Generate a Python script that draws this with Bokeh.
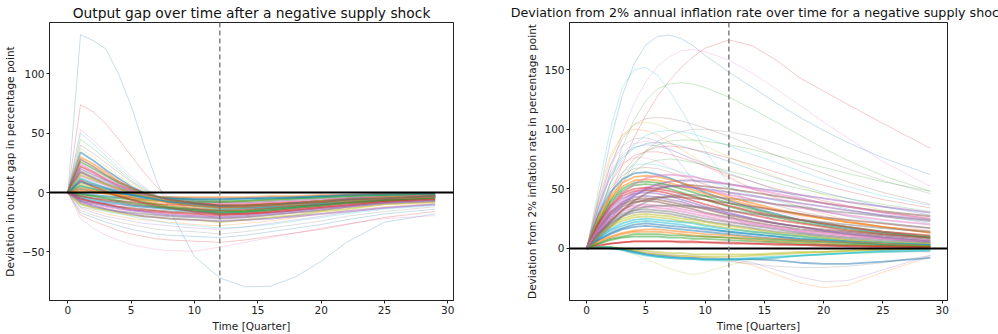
from bokeh.plotting import figure
from bokeh.models import Range1d, Span, ColumnDataSource, FixedTicker
from bokeh.layouts import row
from bokeh.embed import file_html
from bokeh.resources import INLINE

# ---------------- data: output gap (left) ----------------
gap_quarters = [0, 1, 2, 3, 4, 5, 6, 7, 8, 10, 12, 14, 16, 18, 20, 22, 25, 29]
gap_01 = [0, 133, 128, 121, 100, 73, 40, 10, -14, -54, -72, -79.5, -79, -71, -58, -42, -25, -18]
gap_02 = [0, 74, 68, 58, 45, 31, 17, 5, -5, -17, -22, -21, -19, -17, -15, -13, -10, -8]
gap_03 = [0, 53, 44, 34, 24, 14, 5, -2, -7, -13, -17, -17, -16, -14, -12, -10, -8, -6]
gap_04 = [0, 50, 41, 31, 21, 12, 4, -3, -8, -14, -19, -19, -17, -15, -13, -11, -8, -6]
gap_05 = [0, 45, 37, 28, 19, 10, 3, -3, -7, -12, -15, -15, -14, -12, -10, -9, -7, -5]
gap_06 = [0, 40, 33, 25, 17, 9, 2, -3, -6, -10, -13, -13, -12, -11, -9, -8, -6, -4]
gap_07 = [0, 37, 30, 22, 14, 7, 1, -4, -7, -11, -14, -14, -13, -11, -10, -8, -6, -4]
gap_08 = [0, 34, 27, 19, 12, 5, 0, -4, -7, -10, -12, -12, -11, -10, -8, -7, -5, -3]
gap_09 = [0, 30, 24, 17, 10, 4, -1, -4, -7, -10, -12, -12, -11, -9, -8, -6, -5, -3]
gap_10 = [0, 26, 20, 14, 8, 3, -1, -4, -6, -9, -11, -11, -10, -9, -7, -6, -4, -3]
gap_11 = [0, 22, 17, 11, 6, 2, -2, -4, -6, -9, -10, -10, -9, -8, -7, -5, -4, -2]
gap_12 = [0, 20, 15, 10, 5, 1, -2, -5, -7, -10, -12, -12, -11, -10, -8, -7, -5, -3]
gap_13 = [0, 17, 12, 7, 3, 0, -3, -5, -7, -9, -11, -11, -10, -9, -7, -6, -4, -3]
gap_14 = [0, 14, 10, 6, 2, -1, -3, -5, -6, -8, -9, -9, -8, -7, -6, -5, -3, -2]
gap_15 = [0, 11, 7, 4, 1, -1, -3, -4, -5, -7, -8, -8, -7, -6, -5, -4, -3, -2]
gap_16 = [0, 8, 5, 2, 0, -2, -3, -4, -5, -6, -7, -7, -6, -5, -4, -3, -2, -1]
gap_17 = [0, 5, 3, 1, -1, -2, -3, -4, -5, -6, -6, -6, -5, -5, -4, -3, -2, -1]
gap_18 = [0, 3, 1, 0, -1, -2, -3, -4, -4, -5, -5, -5, -4, -4, -3, -2, -2, -1]
gap_19 = [0, 1, 0, -1, -2, -3, -3, -4, -4, -4, -4, -4, -3, -3, -2, -2, -1, -1]
gap_20 = [0, -2, -3, -4, -5, -6, -6, -7, -7, -8, -8, -7, -6, -5, -4, -3, -2, -1]
gap_21 = [0, -3, -5, -6, -7, -8, -9, -10, -10, -11, -12, -11, -10, -9, -7, -6, -4, -3]
gap_22 = [0, -5, -7, -9, -10, -11, -12, -13, -14, -15, -16, -15, -13, -12, -10, -8, -6, -4]
gap_23 = [0, -6, -8, -10, -12, -13, -14, -15, -16, -17, -18, -17, -15, -13, -11, -9, -7, -5]
gap_24 = [0, -8, -10, -12, -14, -15, -16, -17, -18, -19, -20, -19, -17, -15, -13, -11, -8, -6]
gap_25 = [0, -9, -12, -14, -16, -17, -18, -19, -20, -21, -22, -21, -19, -17, -15, -12, -9, -7]
gap_26 = [0, -10, -13, -15, -17, -19, -20, -21, -22, -23, -25, -23, -21, -19, -16, -14, -10, -8]
gap_27 = [0, -12, -15, -18, -20, -22, -23, -24, -25, -27, -28, -26, -24, -21, -18, -15, -12, -9]
gap_28 = [0, -13, -17, -20, -22, -24, -26, -27, -28, -30, -31, -29, -26, -23, -20, -17, -13, -10]
gap_29 = [0, -15, -19, -22, -25, -27, -29, -31, -32, -33, -35, -33, -30, -27, -24, -20, -16, -12]
gap_30 = [0, -17, -21, -25, -28, -31, -33, -35, -36, -37, -38, -36, -33, -30, -27, -23, -18, -14]
gap_31 = [0, -19, -24, -28, -32, -35, -37, -39, -40, -41, -42, -40, -37, -34, -31, -27, -21, -16]
gap_32 = [0, -22, -30, -36, -40, -44, -46, -48, -49, -49.5, -46, -42, -38, -34, -30, -26.5, -22, -19.5]
gap_33 = [0, -12, -14, -16, -18, -20, -22, -24, -26, -28, -30, -29, -27, -24, -21, -18, -14, -11]
gap_34 = [0, -4, -6, -8, -9, -11, -12, -13, -14, -16, -17, -16, -14, -12, -10, -8, -6, -4]
gap_35 = [0, -1, -2, -3, -4, -4, -5, -5, -5, -6, -6, -5, -5, -4, -3, -2, -1, -1]
gap_36 = [0, 2, 1, -1, -3, -5, -7, -9, -11, -13, -15, -15, -13, -11, -9, -8, -6, -4]
gap_37 = [0, 6, 3, 0, -3, -6, -8, -10, -12, -14, -16, -16, -14, -12, -10, -8, -6, -4]
gap_38 = [0, 10, 5, 1, -3, -6, -9, -11, -13, -16, -18, -18, -16, -14, -12, -10, -7, -5]
gap_39 = [0, -7, -11, -14, -16, -18, -20, -21, -22, -23, -24, -23, -22, -20, -18, -16, -13, -10]
gap_40 = [0, -3, -5, -7, -8, -10, -11, -12, -13, -14, -15, -14, -13, -11, -10, -8, -6, -4]
gap_41 = [0, 24, 18, 12, 7, 2, -2, -5, -7, -10, -12, -12, -11, -9, -8, -6, -4, -3]
gap_42 = [0, 18, 13, 8, 4, 0, -3, -6, -8, -11, -13, -13, -12, -10, -9, -7, -5, -3]
gap_43 = [0, 15, 11, 7, 3, 0, -3, -5, -7, -10, -12, -11, -10, -9, -7, -6, -4, -3]
gap_44 = [0, 12, 8, 4, 1, -2, -4, -6, -8, -11, -14, -13, -12, -10, -9, -7, -5, -4]
gap_45 = [0, 9, 6, 3, 0, -2, -4, -6, -8, -10, -12, -12, -11, -9, -8, -6, -5, -3]
gap_46 = [0, 4, 2, 0, -2, -4, -6, -7, -9, -11, -13, -12, -11, -10, -8, -7, -5, -4]
gap_47 = [0, -1, -3, -5, -7, -9, -10, -12, -13, -15, -17, -16, -15, -13, -11, -9, -7, -5]
gap_48 = [0, -5, -8, -10, -12, -14, -15, -16, -17, -18, -19, -18, -17, -15, -13, -11, -8, -6]
gap_49 = [0, -7, -9, -11, -13, -15, -16, -18, -19, -20, -21, -20, -18, -16, -14, -12, -9, -7]
gap_50 = [0, 28, 22, 15, 9, 4, 0, -3, -6, -9, -11, -11, -10, -9, -8, -6, -5, -3]

# ---------------- data: inflation deviation (right) ----------------
inf_quarters = [0, 1, 2, 3, 4, 5, 6, 7, 8, 9, 10, 12, 14, 16, 18, 20, 22, 25, 29]
inf_01 = [0, 42, 90, 128, 155, 171, 178, 179, 176, 170, 162, 148, 135, 122, 110, 99, 89, 76, 62]
inf_02 = [0, 20, 45, 70, 93, 112, 128, 141, 152, 161, 168, 175, 170, 158, 143, 132, 121, 105, 84]
inf_03 = [0, 30, 65, 97, 122, 140, 153, 161, 166, 167, 165, 158, 147, 134, 120, 106, 93, 73, 52]
inf_04 = [0, 50, 100, 135, 150, 152, 145, 132, 116, 99, 82, 54, 34, 22, 14, 9, 6, 3, 1]
inf_05 = [0, 25, 55, 85, 108, 124, 134, 138, 139, 138, 135, 127, 117, 106, 95, 84, 74, 61, 48]
inf_06 = [0, 35, 70, 92, 104, 109, 110, 109, 107, 104, 101, 94, 86, 78, 70, 63, 56, 47, 37]
inf_07 = [0, 40, 75, 95, 104, 106, 104, 100, 96, 91, 86, 77, 68, 60, 52, 45, 39, 32, 24]
inf_08 = [0, 45, 78, 95, 100, 99, 95, 89, 83, 77, 71, 60, 50, 42, 35, 29, 24, 18, 13]
inf_09 = [0, 40, 70, 86, 92, 93, 90, 82, 70, 57, 45, 28, 17, 10, 6, 3, 1, -2, -3]
inf_10 = [0, 15, 35, 55, 70, 82, 90, 95, 98, 100, 100, 98, 94, 88, 81, 74, 67, 57, 46]
inf_11 = [0, 35, 62, 78, 85, 87, 86, 83, 79, 75, 71, 63, 56, 49, 43, 38, 33, 27, 21]
inf_12 = [0, 30, 55, 70, 78, 81, 81, 79, 76, 73, 69, 62, 56, 50, 45, 40, 36, 30, 25]
inf_13 = [0, 38, 60, 72, 76, 76, 73, 68, 63, 58, 53, 44, 37, 31, 26, 22, 18, 14, 10]
inf_14 = [0, 30, 52, 64, 70, 71, 70, 67, 64, 61, 57, 51, 45, 40, 35, 31, 27, 22, 17]
inf_15 = [0, 28, 47, 58, 63, 64, 62, 59, 55, 51, 47, 40, 34, 29, 24, 20, 17, 13, 9]
inf_16 = [0, 25, 42, 52, 57, 58, 57, 55, 52, 49, 46, 41, 36, 32, 28, 25, 22, 18, 14]
inf_17 = [0, 22, 38, 48, 53, 54, 53, 50, 47, 44, 41, 35, 30, 26, 22, 19, 16, 12, 9]
inf_18 = [0, 20, 35, 44, 48, 49, 48, 46, 43, 40, 37, 32, 28, 24, 21, 18, 15, 12, 9]
inf_19 = [0, 18, 31, 39, 43, 44, 43, 41, 39, 36, 34, 29, 25, 21, 18, 15, 13, 10, 7]
inf_20 = [0, 16, 28, 35, 39, 40, 39, 37, 35, 33, 30, 26, 22, 19, 16, 14, 12, 9, 6]
inf_21 = [0, 14, 24, 31, 34, 35, 34, 33, 31, 29, 27, 23, 20, 17, 14, 12, 10, 8, 5]
inf_22 = [0, 12, 21, 27, 30, 31, 30, 29, 27, 25, 23, 20, 17, 14, 12, 10, 8, 6, 4]
inf_23 = [0, 10, 18, 23, 26, 27, 26, 25, 23, 22, 20, 17, 14, 12, 10, 8, 7, 5, 3]
inf_24 = [0, 8, 15, 19, 22, 23, 22, 21, 20, 18, 17, 14, 12, 10, 8, 7, 5, 4, 3]
inf_25 = [0, 7, 12, 16, 18, 19, 18, 17, 16, 15, 14, 12, 10, 8, 7, 6, 5, 3, 2]
inf_26 = [0, 5, 9, 12, 14, 14, 14, 13, 12, 11, 10, 9, 7, 6, 5, 4, 3, 2, 2]
inf_27 = [0, 4, 7, 9, 10, 10, 10, 9, 9, 8, 8, 7, 6, 5, 4, 3, 3, 2, 1]
inf_28 = [0, 3, 4, 5, 6, 6, 6, 6, 5, 5, 5, 4, 4, 3, 3, 2, 2, 1, 1]
inf_29 = [0, 12, 25, 36, 44, 50, 54, 56, 57, 57, 56, 54, 51, 48, 45, 42, 39, 35, 30]
inf_30 = [0, 10, 22, 32, 40, 46, 50, 52, 53, 53, 52, 50, 47, 44, 41, 38, 35, 31, 27]
inf_31 = [0, 15, 30, 40, 47, 51, 53, 53, 52, 51, 49, 45, 41, 37, 34, 31, 28, 24, 20]
inf_32 = [0, 20, 40, 55, 65, 71, 74, 75, 74, 72, 70, 65, 60, 55, 50, 46, 42, 37, 31]
inf_33 = [0, 8, 18, 27, 34, 39, 42, 44, 45, 45, 44, 42, 40, 37, 35, 32, 30, 27, 23]
inf_34 = [0, 1, 1, 0, -2, -4, -5, -6, -6, -7, -7, -7, -6, -5, -4, -3, -2, -1, 0]
inf_35 = [0, 1, 1, -1, -3, -5, -7, -8, -9, -9, -10, -10, -9, -8, -6, -5, -4, -3, -2]
inf_36 = [0, 1, 0, -2, -5, -9, -13, -17, -20, -22, -20, -14, -10, -8, -6, -5, -4, -3, -2]
inf_37 = [0, 1, 1, 0, -2, -4, -5, -6, -7, -7, -8, -10, -14, -22, -29, -33, -31, -20, -7]
inf_38 = [0, 1, 1, 0, -1, -3, -4, -5, -6, -6, -7, -9, -12, -18, -24, -28, -27, -18, -6]
inf_39 = [0, 1, 0, -1, -3, -5, -6, -7, -8, -8, -9, -9, -9, -10, -12, -13, -13, -11, -8]
inf_40 = [0, 0, 0, -1, -2, -4, -5, -6, -7, -8, -9, -11, -13, -15, -16, -16, -15, -12, -6]
inf_41 = [0, 29, 50, 61, 67, 68, 67, 64, 61, 57, 54, 47, 41, 36, 31, 27, 23, 18, 13]
inf_42 = [0, 26, 44, 55, 60, 61, 60, 58, 55, 52, 49, 43, 38, 33, 29, 25, 22, 18, 13]
inf_43 = [0, 23, 40, 50, 55, 56, 55, 53, 50, 47, 44, 38, 33, 28, 24, 21, 18, 14, 10]
inf_44 = [0, 21, 36, 46, 50, 51, 50, 48, 46, 43, 41, 36, 31, 27, 24, 21, 18, 14, 11]
inf_45 = [0, 19, 33, 42, 46, 47, 46, 44, 41, 38, 35, 30, 25, 21, 18, 15, 12, 9, 6]
inf_46 = [0, 17, 30, 37, 41, 42, 41, 39, 37, 35, 33, 28, 24, 21, 18, 16, 14, 11, 8]
inf_47 = [0, 15, 26, 33, 36, 37, 36, 35, 33, 31, 29, 25, 21, 18, 15, 13, 11, 8, 5]
inf_48 = [0, 13, 22, 29, 32, 33, 32, 31, 29, 27, 25, 22, 19, 16, 13, 11, 9, 7, 5]
inf_49 = [0, 11, 19, 25, 28, 29, 28, 27, 25, 24, 22, 19, 16, 13, 11, 9, 7, 5, 4]
inf_50 = [0, 9, 16, 21, 24, 25, 24, 23, 22, 21, 19, 16, 14, 12, 10, 8, 6, 5, 3]
inf_51 = [0, 7, 13, 17, 20, 21, 20, 19, 18, 17, 16, 14, 12, 10, 8, 7, 6, 4, 3]
inf_52 = [0, 6, 10, 13, 15, 16, 16, 15, 14, 13, 12, 11, 9, 8, 7, 6, 5, 4, 2]
inf_53 = [0, 4, 8, 10, 12, 12, 12, 11, 11, 10, 10, 9, 8, 7, 6, 5, 4, 3, 2]
inf_54 = [0, 2, 4, 5, 6, 6, 6, 6, 6, 6, 5, 5, 4, 4, 3, 3, 2, 2, 1]
inf_55 = [0, 14, 28, 38, 45, 49, 51, 52, 52, 51, 50, 47, 44, 41, 38, 35, 32, 28, 24]
inf_56 = [0, 12, 23, 32, 38, 41, 43, 43, 43, 42, 41, 38, 35, 32, 29, 26, 24, 21, 17]
inf_57 = [0, 18, 34, 46, 54, 59, 61, 62, 61, 60, 58, 54, 50, 46, 42, 38, 35, 30, 25]
inf_58 = [0, 10, 20, 27, 32, 35, 36, 36, 36, 35, 34, 32, 29, 27, 24, 22, 20, 17, 14]
inf_59 = [0, 1, 1, 0, -1, -2, -3, -4, -4, -5, -5, -5, -5, -4, -3, -3, -2, -1, 0]
inf_60 = [0, 1, 1, -1, -4, -6, -7, -8, -8, -9, -9, -9, -8, -7, -6, -5, -4, -2, -1]
inf_61 = [0, 33, 60, 76, 84, 88, 89, 88, 86, 83, 80, 73, 66, 59, 53, 47, 42, 35, 28]
inf_62 = [0, 22, 45, 63, 75, 82, 85, 86, 85, 83, 81, 76, 70, 64, 58, 53, 48, 41, 34]
inf_63 = [0, 36, 64, 80, 88, 90, 88, 84, 79, 74, 69, 59, 50, 43, 37, 31, 27, 21, 15]
inf_64 = [0, 28, 55, 74, 87, 95, 98, 99, 98, 96, 93, 86, 79, 72, 65, 58, 52, 44, 36]
inf_65 = [0, 18, 40, 58, 72, 81, 87, 90, 91, 91, 90, 87, 83, 78, 73, 68, 63, 56, 48]

# sparse (faint, isolated) runs and the densely packed bulk of runs
gap_sparse = [gap_01, gap_02, gap_03, gap_04, gap_05, gap_06, gap_07, gap_27, gap_28,
              gap_29, gap_30, gap_31, gap_32, gap_33]
gap_dense = [gap_08, gap_09, gap_10, gap_11, gap_12, gap_13, gap_14, gap_15, gap_16, gap_17,
             gap_18, gap_19, gap_20, gap_21, gap_22, gap_23, gap_24, gap_25, gap_26, gap_34,
             gap_35, gap_36, gap_37, gap_38, gap_39, gap_40, gap_41, gap_42, gap_43, gap_44,
             gap_45, gap_46, gap_47, gap_48, gap_49, gap_50]
inf_sparse = [inf_01, inf_02, inf_03, inf_04, inf_05, inf_06, inf_07, inf_08, inf_09, inf_10,
              inf_11, inf_12, inf_13, inf_14, inf_32, inf_41, inf_36, inf_37, inf_38, inf_40,
              inf_61, inf_62, inf_63, inf_64, inf_65]
inf_dense = [inf_15, inf_16, inf_17, inf_18, inf_19, inf_20, inf_21, inf_22, inf_23,
             inf_24, inf_25, inf_26, inf_27, inf_28, inf_29, inf_30, inf_31, inf_33,
             inf_34, inf_35, inf_39, inf_42, inf_43, inf_44, inf_45, inf_46, inf_47,
             inf_48, inf_49, inf_50, inf_51, inf_52, inf_53, inf_54, inf_55, inf_56, inf_57,
             inf_58, inf_59, inf_60]

shock_quarter = 12
x_ticks = [0, 5, 10, 15, 20, 25, 30]
gap_y_ticks = [-50, 0, 50, 100]
inf_y_ticks = [0, 50, 100, 150]

TAB10 = ["#1f77b4", "#ff7f0e", "#2ca02c", "#d62728", "#9467bd",
         "#8c564b", "#e377c2", "#7f7f7f", "#bcbd22", "#17becf"]
FONT = "DejaVu Sans"


def make_panel(title, title_size, xlabel, ylabel, xs, sparse, dense, yr, yticks, width,
               borders, standoff):
    left, right, top, bottom = borders
    p = figure(width=width, height=334, output_backend="svg", toolbar_location=None,
               x_range=Range1d(-1.45, 30.45), y_range=Range1d(*yr),
               min_border_left=left, min_border_right=right,
               min_border_top=top, min_border_bottom=bottom)
    p.title.text = title
    p.title.text_font = FONT
    p.title.text_font_size = title_size
    p.title.text_font_style = "normal"
    p.title.text_color = "#111111"
    p.title.align = "center"
    p.title.standoff = standoff
    p.title.offset = 0
    p.grid.visible = False
    p.outline_line_color = "#222222"
    p.outline_line_width = 1
    p.outline_line_alpha = 1
    p.background_fill_color = "white"
    p.border_fill_color = "white"

    n_s = len(sparse)
    src_s = ColumnDataSource(dict(
        xs=[xs] * n_s, ys=sparse,
        color=[TAB10[(3 * i) % 10] for i in range(n_s)],
    ))
    src_d = ColumnDataSource(dict(
        xs=[xs] * len(dense), ys=dense,
        color=[TAB10[i % 10] for i in range(len(dense))],
    ))
    p.multi_line("xs", "ys", source=src_s, line_color="color", line_alpha=0.28, line_width=0.9)
    p.multi_line("xs", "ys", source=src_d, line_color="color", line_alpha=0.5, line_width=1.8)

    p.add_layout(Span(location=0, dimension="width", line_color="black", line_width=2))
    p.add_layout(Span(location=shock_quarter, dimension="height", line_color="#777777",
                      line_width=1.4, line_dash="5 3"))

    for ax in (p.xaxis[0], p.yaxis[0]):
        ax.major_label_text_font = FONT
        ax.major_label_text_font_size = "10.5px"
        ax.major_label_text_color = "#222222"
        ax.axis_label_text_font = FONT
        ax.axis_label_text_font_size = "10.5px"
        ax.axis_label_text_font_style = "normal"
        ax.axis_label_text_color = "#222222"
        ax.axis_line_color = "#222222"
        ax.major_tick_line_color = "#222222"
        ax.major_tick_out = 3
        ax.major_tick_in = 0
        ax.minor_tick_out = 0
        ax.minor_tick_in = 0
        ax.major_label_standoff = 2
        ax.axis_label_standoff = 3
    p.xaxis[0].ticker = FixedTicker(ticks=x_ticks)
    p.yaxis[0].ticker = FixedTicker(ticks=yticks)
    p.xaxis[0].axis_label = xlabel
    p.yaxis[0].axis_label = ylabel
    return p


p1 = make_panel("Output gap over time after a negative supply shock", "13.8px", "Time [Quarter]",
                "Deviation in output gap in percentage point", gap_quarters, gap_sparse, gap_dense,
                (-91.0, 143.3), gap_y_ticks, 500, (49, 47, 21, 34), 4)
p2 = make_panel("Deviation from 2% annual inflation rate over time for a negative supply shock",
                "12.7px", "Time [Quarters]", "Deviation from 2% inflation rate in percentage point",
                inf_quarters, inf_sparse, inf_dense, (-43.7, 189.6), inf_y_ticks, 498,
                (69, 51, 19, 33), 5)

layout = row(p1, p2)
open("out.html", "w").write(file_html(layout, INLINE))
